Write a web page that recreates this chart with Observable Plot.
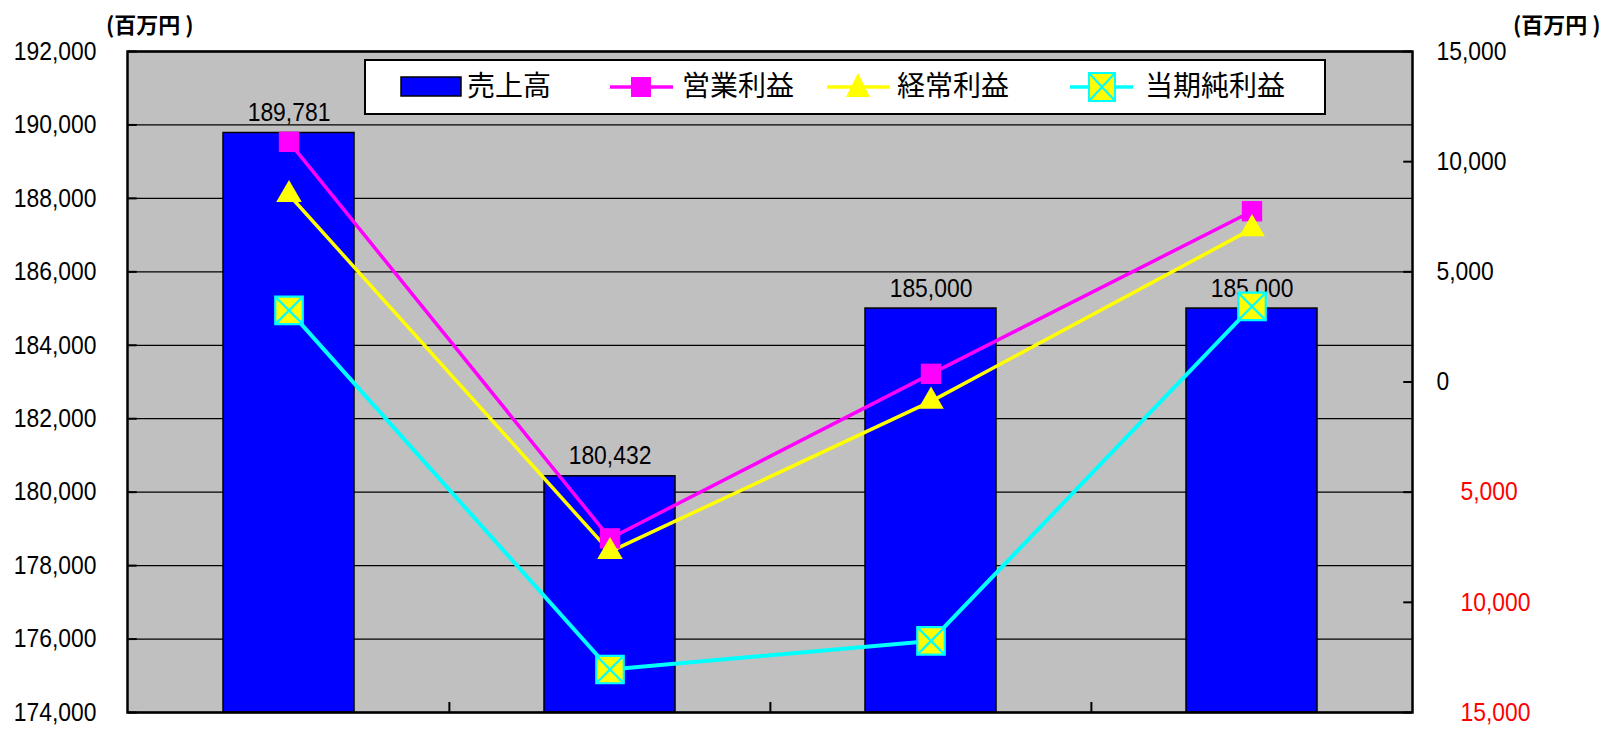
<!DOCTYPE html>
<html>
<head>
<meta charset="utf-8">
<script src="https://cdn.jsdelivr.net/npm/d3@7"></script>
<script src="https://cdn.jsdelivr.net/npm/@observablehq/plot@0.6"></script>
<style>
  html, body { margin: 0; padding: 0; background: #fff; }
  #wrap { position: relative; width: 1620px; height: 729px; overflow: hidden; }
  .unit { position: absolute; top: 7px; font: bold 22px "Noto Sans CJK JP", sans-serif; color: #000; white-space: nowrap; }
  #legend { position: absolute; left: 364px; top: 59px; }
</style>
</head>
<body>
<div id="wrap">
  <div class="unit" style="left:106px;">(百万円 )</div>
  <div class="unit" style="left:1513px;">(百万円 )</div>
</div>
<script>
// ---- data ----
const periods = ["第1期", "第2期", "第3期", "第4期"];
const sales = [189781, 180432, 185000, 185000];            // 売上高 (left axis)
const operatingProfit = [10900, -7100, 370, 7750];         // 営業利益 (right axis)
const ordinaryProfit = [8500, -7700, -880, 6950];          // 経常利益 (right axis)
const netProfit = [3250, -13050, -11750, 3430];            // 当期純利益 (right axis)
const seriesNames = ["売上高", "営業利益", "経常利益", "当期純利益"];
const leftTicks = [174000, 176000, 178000, 180000, 182000, 184000, 186000, 188000, 190000, 192000];
const rightTicks = [-15000, -10000, -5000, 0, 5000, 10000, 15000];

// ---- helpers ----
const L0 = 174000, L1 = 192000, R0 = -15000, R1 = 15000;
const toLeft = v => L0 + (v - R0) * (L1 - L0) / (R1 - R0);
const fromLeft = y => Math.round((y - L0) * (R1 - R0) / (L1 - L0) + R0);
const fmt = d3.format(",");

const barData = periods.map((p, i) => ({period: p, value: sales[i]}));
const lineSeries = [
  {name: seriesNames[1], values: operatingProfit, color: "#ff00ff"},
  {name: seriesNames[2], values: ordinaryProfit, color: "#ffff00"},
  {name: seriesNames[3], values: netProfit, color: "#00ffff"}
];
const lineRows = s => periods.map((p, i) => ({period: p, value: s.values[i], y: toLeft(s.values[i])}));

const boxX = {
  draw(ctx, size) {
    const s = Math.sqrt(size) / 2;
    ctx.moveTo(-s, -s); ctx.lineTo(s, -s); ctx.lineTo(s, s); ctx.lineTo(-s, s); ctx.closePath();
    ctx.moveTo(-s, -s); ctx.lineTo(s, s);
    ctx.moveTo(s, -s); ctx.lineTo(-s, s);
  }
};

const W = 1620, H = 729, mL = 127, mR = 208, mT = 51, mB = 17;
const bw = (W - mL - mR) / periods.length;
const pxToY = (L1 - L0) / (H - mT - mB);
const numFont = '"Liberation Sans", Arial, sans-serif';

const chart = Plot.plot({
  width: W, height: H,
  marginLeft: mL, marginRight: mR, marginTop: mT, marginBottom: mB,
  x: {type: "band", domain: periods, padding: 0, axis: null},
  y: {domain: [L0, L1], axis: null},
  style: {background: "transparent", fontFamily: numFont},
  marks: [
    Plot.frame({fill: "#c0c0c0"}),
    Plot.gridY({ticks: leftTicks, stroke: "#000", strokeOpacity: 1, strokeWidth: 1.3}),
    Plot.barY(barData, {x: "period", y1: L0, y2: "value", fill: "#0000ff", stroke: "#000", strokeWidth: 1.5, insetLeft: 95, insetRight: 95}),
    Plot.text(barData, {x: "period", y: "value", text: d => fmt(d.value), lineAnchor: "bottom", dy: -12, fontSize: 26, fill: "#000"}),
    ...lineSeries.map(s => Plot.line(lineRows(s), {x: "period", y: "y", stroke: s.color, strokeWidth: s.color === "#00ffff" ? 4 : 3.5})),
    Plot.dot(lineRows(lineSeries[0]), {x: "period", y: "y", symbol: "square", r: 11.5, fill: "#ff00ff", stroke: "none"}),
    Plot.dot(lineRows(lineSeries[1]), {x: "period", y: "y", symbol: "triangle", r: 9.5, fill: "#ffff00", stroke: "none"}),
    Plot.dot(lineRows(lineSeries[2]), {x: "period", y: "y", symbol: boxX, r: 15.5, fill: "#ffff00", stroke: "#00ffff", strokeWidth: 2.2}),
    Plot.frame({stroke: "#000", strokeWidth: 2.5}),
    // inward ticks on left axis
    Plot.tickY(leftTicks, {y: d => d, x: () => periods[0], insetRight: bw - 9, stroke: "#000", strokeWidth: 2}),
    // inward ticks on right axis
    Plot.tickY(rightTicks.map(toLeft), {y: d => d, x: () => periods[periods.length - 1], insetLeft: bw - 9, stroke: "#000", strokeWidth: 2}),
    // category boundary ticks on bottom axis (pointing up)
    Plot.ruleX(periods.slice(1), {x: d => d, dx: -bw / 2, y1: () => L0, y2: () => L0 + 10 * pxToY, stroke: "#000", strokeWidth: 2}),
    // left axis labels
    Plot.axisY({ticks: leftTicks, anchor: "left", tickSize: 0, tickPadding: 31, tickFormat: fmt, fontSize: 26, fill: "#000", label: null}),
    // right axis labels (non-negative, black)
    Plot.axisY({ticks: rightTicks.filter(v => v >= 0).map(toLeft), anchor: "right", tickSize: 0, tickPadding: 24, tickFormat: y => fmt(Math.abs(fromLeft(y))), fontSize: 26, fill: "#000", label: null}),
    // right axis labels (negative, red without sign)
    Plot.axisY({ticks: rightTicks.filter(v => v < 0).map(toLeft), anchor: "right", tickSize: 0, tickPadding: 48, tickFormat: y => fmt(Math.abs(fromLeft(y))), fontSize: 26, fill: "#ff0000", label: null})
  ]
});
chart.style.position = "absolute";
chart.style.left = "0px";
chart.style.top = "0px";
const wrap = document.getElementById("wrap");
wrap.insertBefore(chart, wrap.firstChild);

// horizontally condense the numeric labels (narrow Arial look)
chart.querySelectorAll("text").forEach(t => {
  const len = t.getComputedTextLength();
  if (len > 0) {
    t.setAttribute("textLength", (len * 0.88).toFixed(1));
    t.setAttribute("lengthAdjust", "spacingAndGlyphs");
  }
});

// ---- legend (overlay inside plot area) ----
const lg = d3.select(wrap).append("svg").attr("id", "legend").attr("width", 962).attr("height", 56);
lg.append("rect").attr("x", 1).attr("y", 1).attr("width", 960).attr("height", 54).attr("fill", "#fff").attr("stroke", "#000").attr("stroke-width", 2);
const ly = 28;
const items = [
  {name: seriesNames[0], sx: 37, tx: 103},
  {name: seriesNames[1], sx: 246, tx: 318, color: "#ff00ff"},
  {name: seriesNames[2], sx: 463, tx: 533, color: "#ffff00"},
  {name: seriesNames[3], sx: 706, tx: 781, color: "#00ffff"}
];
lg.append("rect").attr("x", items[0].sx).attr("y", ly - 10).attr("width", 60).attr("height", 19).attr("fill", "#0000ff").attr("stroke", "#000").attr("stroke-width", 1.5);
for (let k = 1; k < 4; k++) {
  const it = items[k];
  lg.append("line").attr("x1", it.sx).attr("x2", it.sx + 63).attr("y1", ly).attr("y2", ly).attr("stroke", it.color).attr("stroke-width", 3.5);
}
const cx1 = items[1].sx + 31, cx2 = items[2].sx + 31, cx3 = items[3].sx + 32;
lg.append("rect").attr("x", cx1 - 10).attr("y", ly - 10).attr("width", 20).attr("height", 20).attr("fill", "#ff00ff");
lg.append("path").attr("d", `M${cx2},${ly - 14}L${cx2 + 12},${ly + 10}L${cx2 - 12},${ly + 10}Z`).attr("fill", "#ffff00");
lg.append("path").attr("d", `M${cx3 - 13},${ly - 14}h26v28h-26Z M${cx3 - 13},${ly - 14}L${cx3 + 13},${ly + 14}M${cx3 + 13},${ly - 14}L${cx3 - 13},${ly + 14}`).attr("fill", "#ffff00").attr("stroke", "#00ffff").attr("stroke-width", 2);
items.forEach(it => {
  lg.append("text").attr("x", it.tx).attr("y", ly + 1).attr("dominant-baseline", "middle")
    .attr("font-family", '"Noto Sans CJK JP", sans-serif').attr("font-size", 28).attr("fill", "#000").text(it.name);
});
</script>
</body>
</html>
